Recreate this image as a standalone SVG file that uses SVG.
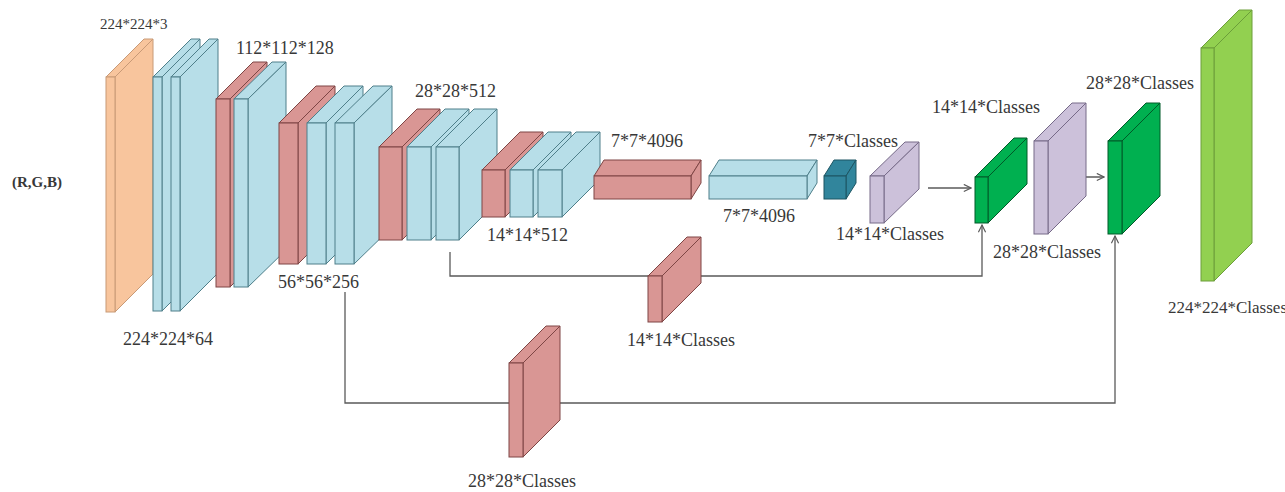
<svg xmlns="http://www.w3.org/2000/svg" width="1285" height="492" viewBox="0 0 1285 492">
<style>
.t{font-family:"Liberation Serif","Times New Roman",serif;font-size:18px;fill:#383838}
.s{font-size:15px}
.b{font-weight:bold;font-size:15px}
.c{fill:none;stroke:#5a5a5a;stroke-width:1.3}
.or{fill:#F8C59D;stroke:#C89A77;stroke-width:1}
.bl{fill:#B7DEE8;stroke:#4F7F8A;stroke-width:1}
.rd{fill:#D99694;stroke:#7E4544;stroke-width:1}
.tl{fill:#31859C;stroke:#1D5562;stroke-width:1}
.pu{fill:#CCC1DA;stroke:#766A88;stroke-width:1}
.gr{fill:#00B050;stroke:#005A28;stroke-width:1}
.lg{fill:#92D050;stroke:#6C9E3A;stroke-width:1}
</style>
<defs>
<marker id="ah" viewBox="0 0 10 10" refX="9" refY="5" markerWidth="9" markerHeight="9" orient="auto" markerUnits="userSpaceOnUse">
<path d="M1,1 L9,5 L1,9" fill="none" stroke="#5a5a5a" stroke-width="1.3"/>
</marker>
</defs>
<g id="connectors">
<path class="c" d="M450,252 V276 H982 V225" marker-end="url(#ah)"/>
<path class="c" d="M345,292 V403 H1115 V236" marker-end="url(#ah)"/>
<path class="c" d="M928,188 H971" marker-end="url(#ah)"/>
<path class="c" d="M1063,177 H1104" marker-end="url(#ah)"/>
</g>
<g id="input" class="or">
<path d="M106,77 H115 L153,39 H144 Z"/><path d="M115,77 L153,39 V274 L115,312 Z"/><rect x="106" y="77" width="9" height="235"/>
</g>
<g id="conv1a" class="bl">
<path d="M153,77 H162 L200,39 H191 Z"/><path d="M162,77 L200,39 V273 L162,311 Z"/><rect x="153" y="77" width="9" height="234"/>
</g>
<g id="conv1b" class="bl">
<path d="M171,77 H180 L218,39 H209 Z"/><path d="M180,77 L218,39 V273 L180,311 Z"/><rect x="171" y="77" width="9" height="234"/>
</g>
<g id="pool1" class="rd">
<path d="M216,99 H230 L267,62 H253 Z"/><path d="M230,99 L267,62 V250 L230,287 Z"/><rect x="216" y="99" width="14" height="188"/>
</g>
<g id="conv2" class="bl">
<path d="M234,99 H248 L286,62 H272 Z"/><path d="M248,99 L286,62 V250 L248,287 Z"/><rect x="234" y="99" width="14" height="188"/>
</g>
<g id="pool2" class="rd">
<path d="M279,123 H298 L335,86 H316 Z"/><path d="M298,123 L335,86 V227 L298,264 Z"/><rect x="279" y="123" width="19" height="141"/>
</g>
<g id="conv3a" class="bl">
<path d="M307,123 H326 L363,86 H344 Z"/><path d="M326,123 L363,86 V227 L326,264 Z"/><rect x="307" y="123" width="19" height="141"/>
</g>
<g id="conv3b" class="bl">
<path d="M335,123 H354 L392,86 H373 Z"/><path d="M354,123 L392,86 V227 L354,264 Z"/><rect x="335" y="123" width="19" height="141"/>
</g>
<g id="pool3" class="rd">
<path d="M379,147 H402 L440,109 H417 Z"/><path d="M402,147 L440,109 V202 L402,240 Z"/><rect x="379" y="147" width="23" height="93"/>
</g>
<g id="conv4a" class="bl">
<path d="M407,147 H431 L469,109 H445 Z"/><path d="M431,147 L469,109 V202 L431,240 Z"/><rect x="407" y="147" width="24" height="93"/>
</g>
<g id="conv4b" class="bl">
<path d="M436,147 H459 L497,109 H474 Z"/><path d="M459,147 L497,109 V202 L459,240 Z"/><rect x="436" y="147" width="23" height="93"/>
</g>
<g id="pool4" class="rd">
<path d="M482,170 H505 L543,132 H520 Z"/><path d="M505,170 L543,132 V179 L505,217 Z"/><rect x="482" y="170" width="23" height="47"/>
</g>
<g id="conv5a" class="bl">
<path d="M510,170 H533 L571,132 H548 Z"/><path d="M533,170 L571,132 V179 L533,217 Z"/><rect x="510" y="170" width="23" height="47"/>
</g>
<g id="conv5b" class="bl">
<path d="M538,170 H562 L600,132 H576 Z"/><path d="M562,170 L600,132 V179 L562,217 Z"/><rect x="538" y="170" width="24" height="47"/>
</g>
<g id="fc6" class="rd">
<path d="M594,176 H691 L701,160 H604 Z"/><path d="M691,176 L701,160 V183 L691,199 Z"/><rect x="594" y="176" width="97" height="23"/>
</g>
<g id="fc7" class="bl">
<path d="M709,176 H807 L817,160 H719 Z"/><path d="M807,176 L817,160 V183 L807,199 Z"/><rect x="709" y="176" width="98" height="23"/>
</g>
<g id="score" class="tl">
<path d="M824,176 H846 L856,160 H834 Z"/><path d="M846,176 L856,160 V183 L846,199 Z"/><rect x="824" y="176" width="22" height="23"/>
</g>
<g id="up1" class="pu">
<path d="M870,176 H884 L919,142 H905 Z"/><path d="M884,176 L919,142 V189 L884,223 Z"/><rect x="870" y="176" width="14" height="47"/>
</g>
<g id="fuse1" class="gr">
<path d="M975,177 H988 L1027,138 H1014 Z"/><path d="M988,177 L1027,138 V184 L988,223 Z"/><rect x="975" y="177" width="13" height="46"/>
</g>
<g id="up2" class="pu">
<path d="M1034,141 H1048 L1086,103 H1072 Z"/><path d="M1048,141 L1086,103 V196 L1048,234 Z"/><rect x="1034" y="141" width="14" height="93"/>
</g>
<g id="fuse2" class="gr">
<path d="M1108,141 H1122 L1160,103 H1146 Z"/><path d="M1122,141 L1160,103 V196 L1122,234 Z"/><rect x="1108" y="141" width="14" height="93"/>
</g>
<g id="output" class="lg">
<path d="M1201,48 H1214 L1252,10 H1239 Z"/><path d="M1214,48 L1252,10 V243 L1214,281 Z"/><rect x="1201" y="48" width="13" height="233"/>
</g>
<g id="skip4" class="rd">
<path d="M648,276 H662 L701,237 H687 Z"/><path d="M662,276 L701,237 V283 L662,322 Z"/><rect x="648" y="276" width="14" height="46"/>
</g>
<g id="skip3" class="rd">
<path d="M509,363 H523 L560,326 H546 Z"/><path d="M523,363 L560,326 V420 L523,457 Z"/><rect x="509" y="363" width="14" height="94"/>
</g>
<g id="labels">
<text class="t b" x="12" y="187">(R,G,B)</text>
<text class="t s" x="100" y="29">224*224*3</text>
<text class="t" x="236" y="54">112*112*128</text>
<text class="t" x="278" y="288">56*56*256</text>
<text class="t" x="123" y="345">224*224*64</text>
<text class="t" x="415" y="97">28*28*512</text>
<text class="t" x="487" y="241">14*14*512</text>
<text class="t" x="611" y="147">7*7*4096</text>
<text class="t" x="723" y="222">7*7*4096</text>
<text class="t" x="808" y="147">7*7*Classes</text>
<text class="t" x="836" y="240">14*14*Classes</text>
<text class="t" x="932" y="113">14*14*Classes</text>
<text class="t" x="1086" y="89">28*28*Classes</text>
<text class="t" x="993" y="258">28*28*Classes</text>
<text class="t" x="627" y="346">14*14*Classes</text>
<text class="t" x="468" y="487">28*28*Classes</text>
<text class="t" x="1168" y="313" style="font-size:17px">224*224*Classes</text>
</g>
</svg>
